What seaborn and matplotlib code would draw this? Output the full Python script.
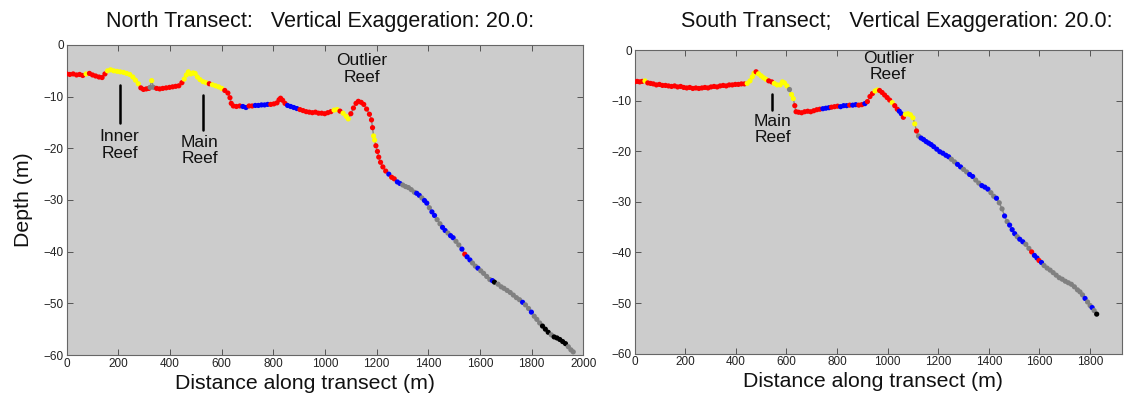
import matplotlib
matplotlib.use("Agg")
import matplotlib.pyplot as plt
import pandas as pd
import seaborn as sns

# ---------------- data ----------------
north_dist = [
    0, 12, 25, 38, 50, 62, 75, 88, 100, 112,
    125, 137, 148, 158, 170, 182, 195, 207, 220, 232,
    244, 256, 266, 277, 287, 297, 308, 318, 323, 329,
    336, 348, 360, 372, 385, 398, 410, 422, 434, 446,
    455, 463, 471, 480, 489, 497, 506, 516, 528, 540,
    552, 564, 576, 588, 600, 612, 624, 632, 637, 645,
    657, 670, 682, 694, 706, 718, 730, 742, 754, 766,
    778, 790, 802, 814, 822, 828, 836, 845, 855, 867,
    879, 891, 903, 915, 927, 939, 951, 963, 975, 987,
    999, 1011, 1023, 1035, 1047, 1058, 1070, 1082, 1090, 1100,
    1110, 1120, 1129, 1140, 1150, 1161, 1172, 1180, 1184, 1188,
    1192, 1197, 1203, 1208, 1215, 1224, 1235, 1247, 1258, 1268,
    1280, 1290, 1301, 1312, 1323, 1334, 1346, 1355, 1365, 1375,
    1385, 1394, 1404, 1414, 1424, 1434, 1445, 1455, 1465, 1476,
    1486, 1496, 1507, 1518, 1530, 1541, 1550, 1561, 1571, 1582,
    1592, 1603, 1614, 1626, 1638, 1648, 1656, 1670, 1682, 1693,
    1705, 1717, 1729, 1741, 1753, 1765, 1776, 1788, 1799, 1810,
    1820, 1831, 1842, 1853, 1864, 1876, 1887, 1898, 1909, 1920,
    1931, 1942, 1952, 1961,
]
north_depth = [
    -5.6, -5.7, -5.6, -5.8, -5.7, -5.9, -5.6, -5.5, -5.8, -6.0,
    -6.2, -6.3, -5.6, -5.0, -4.8, -5.0, -5.1, -5.2, -5.3, -5.5,
    -5.7, -6.2, -6.8, -7.5, -8.3, -8.6, -8.5, -8.4, -8.2, -6.9,
    -8.2, -8.4, -8.5, -8.4, -8.3, -8.2, -8.1, -8.0, -7.9, -7.3,
    -6.6, -5.8, -5.2, -5.6, -5.4, -5.5, -6.2, -6.7, -7.1, -7.3,
    -7.5, -7.7, -7.9, -8.1, -8.4, -8.8, -9.3, -10.2, -11.3, -11.8,
    -11.9, -11.8, -11.9, -12.1, -11.8, -11.8, -11.7, -11.7, -11.6, -11.6,
    -11.5, -11.5, -11.4, -11.2, -10.6, -10.3, -10.7, -11.3, -11.7, -11.9,
    -12.1, -12.3, -12.5, -12.7, -12.9, -13.0, -13.1, -13.0, -13.2, -13.2,
    -13.3, -13.1, -12.9, -12.6, -12.5, -12.8, -13.2, -13.8, -14.3, -13.3,
    -12.2, -11.3, -10.9, -11.1, -11.5, -12.4, -13.4, -14.5, -16.0, -17.6,
    -18.4, -19.5, -20.6, -21.7, -22.7, -23.6, -24.4, -25.0, -25.6, -25.9,
    -26.5, -26.8, -27.1, -27.4, -27.6, -28.0, -28.5, -28.7, -29.1, -29.6,
    -30.1, -30.6, -31.5, -32.3, -33.0, -33.8, -34.6, -35.3, -35.9, -36.4,
    -36.9, -37.3, -38.0, -38.7, -39.5, -40.5, -41.0, -41.6, -42.2, -42.8,
    -43.2, -43.7, -44.2, -44.8, -45.4, -45.6, -45.9, -46.3, -46.8, -47.1,
    -47.5, -47.9, -48.4, -48.9, -49.3, -49.8, -50.3, -51.0, -51.7, -52.5,
    -53.1, -53.8, -54.4, -55.0, -55.6, -56.1, -56.5, -56.7, -57.0, -57.4,
    -57.8, -58.4, -59.0, -59.4,
]
north_cls = ("RRRRRRYRRR RRRYYYYYYY YYYYRRRRGY GRRRRRRRRR YYYYYYYYYY "
             "RYYYYRRRRR RRBBRRBBBB BRRRRRRRBB BBRRRRRRRR RRRYYRYYYR "
             "RRRRRRRRRY YRRRRRRBRR BBGGGGGBBG BBGBBGGBBG BBGGBRBBGG "
             "BGGGGBKGGG GGGGGBGGBG GGKKKGKKKK KGGG")

south_dist = [
    0, 10, 20, 30, 41, 52, 63, 74, 86, 98,
    110, 122, 134, 146, 158, 170, 182, 194, 206, 218,
    230, 242, 254, 266, 278, 290, 302, 314, 326, 338,
    350, 362, 374, 386, 398, 410, 422, 434, 445, 456,
    465, 472, 480, 490, 500, 510, 520, 530, 542, 552,
    563, 575, 584, 592, 602, 612, 620, 627, 633, 638,
    648, 660, 672, 684, 696, 708, 720, 732, 744, 756,
    768, 778, 790, 802, 814, 826, 838, 850, 862, 874,
    886, 898, 910, 920, 930, 940, 950, 960, 968, 978,
    988, 998, 1008, 1018, 1028, 1038, 1046, 1054, 1062, 1070,
    1080, 1090, 1100, 1107, 1114, 1122, 1132, 1142, 1152, 1162,
    1172, 1182, 1194, 1206, 1218, 1230, 1241, 1252, 1264, 1276,
    1288, 1300, 1312, 1324, 1336, 1348, 1360, 1372, 1384, 1396,
    1408, 1419, 1430, 1441, 1452, 1462, 1472, 1482, 1492, 1502,
    1512, 1522, 1534, 1546, 1558, 1569, 1580, 1590, 1598, 1608,
    1618, 1630, 1642, 1654, 1666, 1678, 1690, 1702, 1714, 1726,
    1738, 1750, 1760, 1770, 1780, 1790, 1800, 1808, 1816, 1826,
]
south_depth = [
    -6.3, -6.2, -6.3, -6.2, -6.1, -6.5, -6.6, -6.7, -6.9, -6.8,
    -7.0, -7.0, -7.1, -7.2, -7.1, -7.3, -7.2, -7.4, -7.5, -7.4,
    -7.6, -7.5, -7.6, -7.5, -7.4, -7.5, -7.3, -7.2, -7.3, -7.1,
    -7.0, -7.1, -6.9, -6.9, -6.8, -6.8, -6.7, -6.7, -6.6, -6.1,
    -5.3, -4.6, -4.3, -4.7, -5.1, -5.5, -5.8, -6.1, -6.3, -6.6,
    -6.9, -6.9, -6.3, -6.5, -7.1, -7.8, -8.8, -9.6, -11.0, -12.2,
    -12.3, -12.4, -12.2, -12.1, -12.2, -12.0, -11.8, -11.7, -11.6, -11.5,
    -11.4, -11.3, -11.2, -11.1, -11.2, -11.0, -11.0, -10.9, -10.9, -10.8,
    -10.9, -10.8, -10.6, -10.2, -9.2, -8.6, -8.1, -7.9, -8.0, -8.4,
    -8.9, -9.4, -9.9, -10.4, -11.0, -11.7, -12.1, -12.6, -13.3, -12.7,
    -12.6, -12.8, -13.4, -14.6, -16.0, -17.0, -17.4, -17.7, -18.1, -18.4,
    -18.7, -19.1, -19.6, -20.1, -20.4, -20.8, -21.1, -21.6, -22.1, -22.6,
    -23.1, -23.6, -24.1, -24.6, -25.0, -25.7, -26.3, -26.8, -27.1, -27.5,
    -28.2, -28.9, -29.3, -30.2, -31.4, -32.8, -33.9, -34.6, -35.5, -36.3,
    -36.9, -37.4, -37.9, -38.4, -39.2, -39.9, -40.6, -41.1, -41.6, -42.0,
    -42.6, -43.1, -43.5, -44.0, -44.5, -45.0, -45.3, -45.7, -46.0, -46.3,
    -46.8, -47.4, -47.8, -48.4, -49.1, -49.8, -50.5, -50.9, -51.5, -52.2,
]
south_cls = ("RRRRYRRRRR RRRRRRRRRR RRRRRRRRRR RRRRRRRRYY YYRYYYYRRY "
             "YYYYYGYYRR RRRRRRRRBB BRRRBBBRBB RRBRRRYYRR RRRYRRBBRY "
             "YYYYRGBBBB BBBBBBBGGB BGGBBGGBBB GGBGGBGBBB GBBGGRBBRB "
             "GGGGGGGGGG GGGGBGGBGK")

x_ticks_north = [0, 200, 400, 600, 800, 1000, 1200, 1400, 1600, 1800, 2000]
x_ticks_south = [0, 200, 400, 600, 800, 1000, 1200, 1400, 1600, 1800]
y_ticks = [0, -10, -20, -30, -40, -50, -60]

north_title = "North Transect:   Vertical Exaggeration: 20.0:"
south_title = "South Transect;   Vertical Exaggeration: 20.0:"

class_colors = {"R": "#ff0000", "Y": "#ffff00", "B": "#0000ff",
                "G": "#808080", "K": "#000000"}

# ---------------- styling ----------------
sns.set_style("ticks")
plt.rcParams["font.family"] = ["Liberation Sans", "DejaVu Sans"]
plt.rcParams["axes.unicode_minus"] = True

fig = plt.figure(figsize=(11.25, 4.01), dpi=100)
axL = fig.add_axes([0.0593, 0.1147, 0.4592, 0.7731])
axR = fig.add_axes([0.5641, 0.1182, 0.4330, 0.7571])


def draw(ax, dist, depth, cls, xmax, xticks, notes, xlabel_x):
    df = pd.DataFrame({"dist": dist, "depth": depth,
                       "cls": list(cls.replace(" ", ""))})
    sns.lineplot(data=df, x="dist", y="depth", sort=False, color="#858585",
                 linewidth=1.0, ax=ax, zorder=2)
    sns.scatterplot(data=df, x="dist", y="depth", hue="cls",
                    palette=class_colors, s=14, linewidth=0, legend=False,
                    ax=ax, zorder=3)
    ax.set_facecolor("#cccccc")
    ax.set_xlim(0, xmax)
    ax.set_ylim(-60, 0)
    ax.set_xticks(xticks)
    ax.set_yticks(y_ticks)
    ax.set_xticklabels([str(t) for t in xticks])
    ax.set_yticklabels(["0"] + ["\u2212%d" % (-t) for t in y_ticks[1:]])
    ax.tick_params(direction="in", top=True, right=True, length=4,
                   width=0.7, color="#555555", labelsize=8.5,
                   labelcolor="#222222", pad=2)
    for sp in ax.spines.values():
        sp.set_visible(True)
        sp.set_color("#666666")
        sp.set_linewidth(0.8)
    ax.set_xlabel("Distance along transect (m)", fontsize=15.3,
                  color="#111111")
    ax.xaxis.set_label_coords(xlabel_x, -0.062)
    ax.xaxis.label.set_va("top")
    ax.set_ylabel("")
    for text, tx, ty, lx, ly0, ly1 in notes:
        ax.text(tx, ty, text, ha="center", va="top", fontsize=12.5,
                color="#111111", linespacing=1.12, zorder=4)
        if lx is not None:
            ax.plot([lx, lx], [ly0, ly1], color="black", lw=1.8, zorder=4)


draw(axL, north_dist, north_depth, north_cls, 2000, x_ticks_north, [
    ("Inner\nReef", 205, -16.3, 207, -7.7, -15.1),
    ("Main\nReef", 515, -17.4, 528, -9.7, -16.4),
    ("Outlier\nReef", 1142, -1.6, None, None, None),
], 0.461)
draw(axR, south_dist, south_depth, south_cls, 1925, x_ticks_south, [
    ("Main\nReef", 545, -12.6, 542, -8.6, -11.9),
    ("Outlier\nReef", 1003, -0.1, None, None, None),
], 0.49)

axL.set_ylabel("Depth (m)", fontsize=15.3, color="#111111", labelpad=8)

fig.text(320 / 1125, 1 - 21 / 401, north_title, ha="center", va="center",
         fontsize=15.5, color="#111111")
fig.text(897 / 1125, 1 - 21 / 401, south_title, ha="center", va="center",
         fontsize=15.5, color="#111111")

fig.savefig("out.png", dpi=100, facecolor="white")
